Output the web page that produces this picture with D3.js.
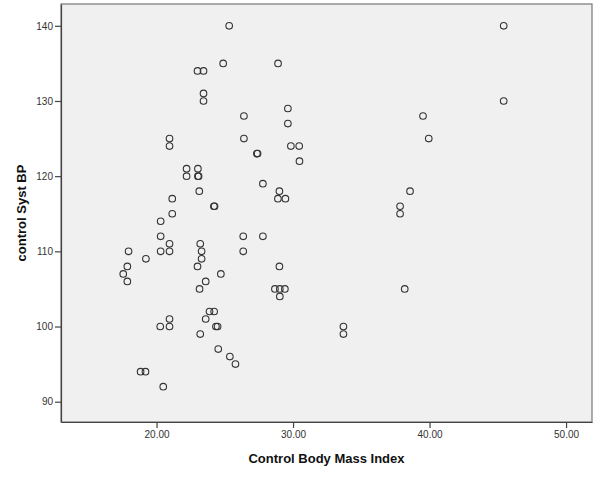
<!DOCTYPE html>
<html>
<head>
<meta charset="utf-8">
<script src="https://cdn.jsdelivr.net/npm/d3@7"></script>
<style>
  body { margin: 0; background: #fff; }
  text { font-family: "Liberation Sans", Arial, sans-serif; }
</style>
</head>
<body>
<script>
// control Body Mass Index values
const bmi = [
  25.32, 45.43, 24.88, 28.90, 23.00, 23.44, 23.44, 23.44, 45.43, 29.62,
  26.40, 39.52, 29.62, 26.40, 20.95, 39.94, 20.95, 29.84, 30.45, 27.35,
  27.40, 30.47, 22.20, 23.03, 22.20, 23.03, 23.08, 27.79, 23.13, 29.00,
  38.57, 21.15, 28.89, 29.44, 24.20, 24.25, 37.84, 21.15, 37.84, 20.30,
  20.30, 26.35, 27.79, 20.95, 23.20, 17.95, 20.30, 20.95, 23.30, 26.35,
  19.22, 23.30, 17.86, 23.00, 29.00, 17.56, 24.71, 17.86, 23.60, 23.15,
  28.67, 29.03, 29.40, 38.18, 29.03, 23.88, 24.22, 20.95, 23.60, 20.27,
  20.95, 24.35, 24.47, 33.69, 23.20, 33.69, 24.52, 25.37, 25.78, 18.83,
  19.19, 20.49
];
// control systolic BP values
const systBP = [
  140, 140, 135, 135, 134, 134, 131, 130, 130, 129,
  128, 128, 127, 125, 125, 125, 124, 124, 124, 123,
  123, 122, 121, 121, 120, 120, 120, 119, 118, 118,
  118, 117, 117, 117, 116, 116, 116, 115, 115, 114,
  112, 112, 112, 111, 111, 110, 110, 110, 110, 110,
  109, 109, 108, 108, 108, 107, 107, 106, 106, 105,
  105, 105, 105, 105, 104, 102, 102, 101, 101, 100,
  100, 100, 100, 100, 99, 99, 97, 96, 95, 94,
  94, 92
];
const xTicks = [20, 30, 40, 50];
const yTicks = [90, 100, 110, 120, 130, 140];

const width = 600;
const height = 480;
const margin = {top: 4, right: 8, bottom: 58, left: 61};

const points = bmi.map((d, i) => ({x: d, y: systBP[i]}));

const svg = d3.select('body').append('svg')
  .attr('width', width)
  .attr('height', height);

const x = d3.scaleLinear()
  .domain([13.0, 51.9])
  .range([margin.left, width - margin.right]);

const y = d3.scaleLinear()
  .domain([87.3, 142.9])
  .range([height - margin.bottom, margin.top]);

// plot background + frame
svg.append('rect')
  .attr('x', margin.left)
  .attr('y', margin.top)
  .attr('width', width - margin.left - margin.right)
  .attr('height', height - margin.top - margin.bottom)
  .attr('fill', '#f0f0f0')
  .attr('stroke', '#777')
  .attr('stroke-width', 1.2);

const xAxis = svg.append('g')
  .attr('transform', `translate(0,${height - margin.bottom})`)
  .call(d3.axisBottom(x).tickValues(xTicks).tickFormat(d3.format('.2f')).tickSize(6).tickSizeOuter(0));

const yAxis = svg.append('g')
  .attr('transform', `translate(${margin.left},0)`)
  .call(d3.axisLeft(y).tickValues(yTicks).tickSize(6).tickSizeOuter(0));

[xAxis, yAxis].forEach(g => {
  g.select('.domain').attr('stroke', '#444').attr('stroke-width', 1.2);
  g.selectAll('.tick line').attr('stroke', '#444').attr('stroke-width', 1.2);
  g.selectAll('.tick text')
    .attr('font-family', '"Liberation Sans", Arial, sans-serif')
    .attr('font-size', 10)
    .attr('fill', '#333');
});
yAxis.selectAll('.tick text').attr('x', -8);

svg.selectAll('circle')
  .data(points)
  .join('circle')
  .attr('cx', d => x(d.x))
  .attr('cy', d => y(d.y))
  .attr('r', 3.3)
  .attr('fill', 'none')
  .attr('stroke', '#333')
  .attr('stroke-width', 1.1);

svg.append('text')
  .attr('x', (margin.left + width - margin.right) / 2)
  .attr('y', 463)
  .attr('text-anchor', 'middle')
  .attr('font-size', 13)
  .attr('font-weight', 'bold')
  .attr('fill', '#111')
  .text('Control Body Mass Index');

svg.append('text')
  .attr('transform', `translate(26,${(margin.top + height - margin.bottom) / 2}) rotate(-90)`)
  .attr('text-anchor', 'middle')
  .attr('font-size', 13)
  .attr('font-weight', 'bold')
  .attr('fill', '#111')
  .text('control Syst BP');
</script>
</body>
</html>
